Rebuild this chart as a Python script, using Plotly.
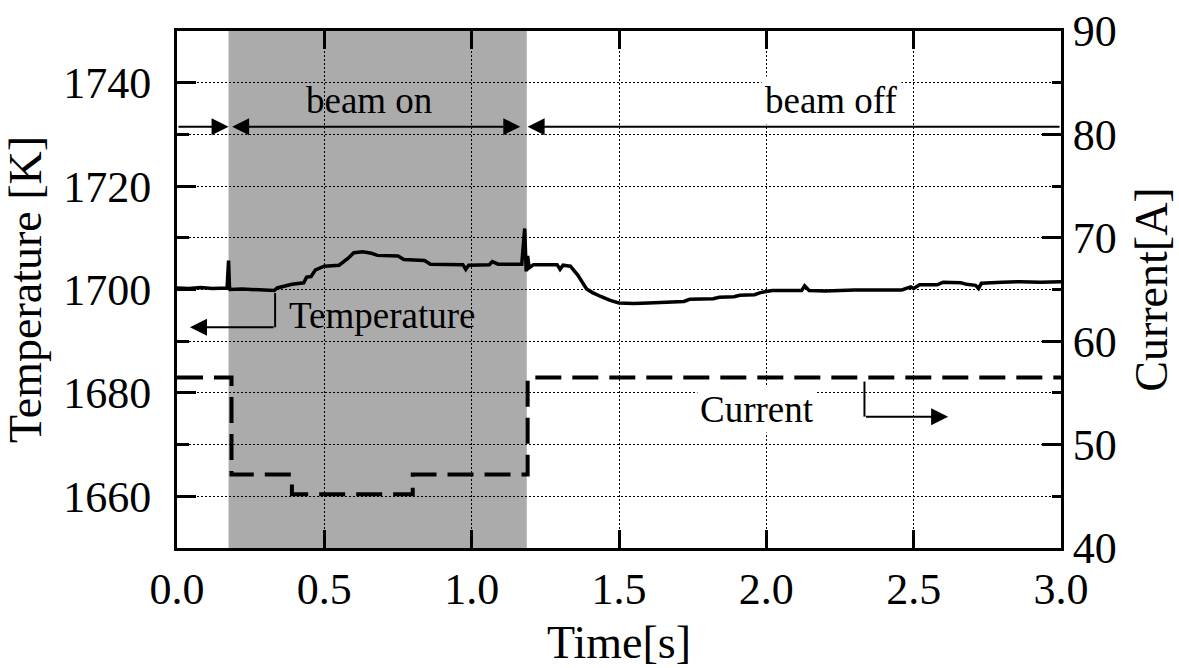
import plotly.graph_objects as go

# Surface temperature trace: time [s], temperature [K]
time_temp = [0.00, 0.04, 0.08, 0.12, 0.17, 0.175, 0.178, 0.18, 0.22, 0.27, 0.33, 0.34,
             0.39, 0.43, 0.44, 0.455, 0.47, 0.50, 0.55, 0.58, 0.60, 0.63, 0.66, 0.68,
             0.75, 0.77, 0.84, 0.86, 0.97, 0.98, 0.99, 1.06, 1.07, 1.09, 1.17, 1.18,
             1.185, 1.19, 1.195, 1.21, 1.29, 1.30, 1.31, 1.335, 1.36, 1.39, 1.41, 1.44,
             1.47, 1.50, 1.55, 1.60, 1.66, 1.72, 1.74, 1.82, 1.84, 1.89, 1.91, 1.96,
             1.98, 2.02, 2.12, 2.13, 2.145, 2.20, 2.30, 2.40, 2.46, 2.49, 2.50, 2.52,
             2.58, 2.60, 2.66, 2.68, 2.71, 2.72, 2.73, 2.80, 2.86, 2.93, 3.00]
temperature = [1700.3, 1700.2, 1700.4, 1700.2, 1700.3, 1705.6, 1700.6, 1700.0, 1700.1, 1699.9, 1699.8, 1700.3,
               1701.0, 1701.3, 1702.4, 1702.5, 1703.8, 1704.5, 1704.7, 1706.0, 1707.1, 1707.3, 1707.0, 1706.6,
               1706.5, 1705.8, 1705.6, 1704.9, 1704.8, 1703.9, 1704.7, 1704.8, 1705.4, 1704.9, 1704.9, 1711.8,
               1703.5, 1706.5, 1704.2, 1704.8, 1704.8, 1703.9, 1704.7, 1704.5, 1702.8, 1700.1, 1699.4, 1698.6,
               1697.9, 1697.4, 1697.3, 1697.4, 1697.6, 1697.7, 1698.1, 1698.2, 1698.5, 1698.6, 1698.9, 1699.0,
               1699.4, 1699.8, 1699.8, 1700.7, 1699.8, 1699.7, 1699.9, 1699.8, 1699.9, 1700.5, 1700.2, 1700.9,
               1700.9, 1701.4, 1701.3, 1701.0, 1700.8, 1700.2, 1701.2, 1701.4, 1701.5, 1701.4, 1701.5]

# Heater current steps: time [s], current [A]
time_current = [0.0, 0.185, 0.39, 0.80, 1.19, 3.0]
current = [56.5, 47.1, 45.2, 47.1, 56.5, 56.5]

# Beam irradiation window [s]
beam_on_start = 0.175
beam_on_end = 1.187

x_ticks = [0.0, 0.5, 1.0, 1.5, 2.0, 2.5, 3.0]

FONT = "Liberation Serif, Times New Roman, serif"
TICK_SIZE = 44
TITLE_SIZE = 46
NOTE_SIZE = 37
GRID_DASH = "2px,2px"

fig = go.Figure()

fig.add_trace(go.Scatter(
    x=time_temp, y=temperature, mode="lines",
    line=dict(color="black", width=3.5), yaxis="y", showlegend=False,
))
fig.add_trace(go.Scatter(
    x=time_current, y=current, mode="lines", line_shape="hv",
    line=dict(color="black", width=4, dash="26px,11px"), yaxis="y2", showlegend=False,
))

# Shaded beam-on band
fig.add_shape(type="rect", xref="x", yref="y domain", x0=beam_on_start, x1=beam_on_end,
              y0=0, y1=1, fillcolor="#ababab", line=dict(width=0), layer="below")

arrow_y = 1731.5
arrow_style = dict(showarrow=True, text="", arrowcolor="black", arrowwidth=2,
                   arrowhead=2, arrowsize=1.7, xref="x", yref="y", axref="x", ayref="y")
# beam on / beam off span arrows
fig.add_annotation(x=beam_on_start, y=arrow_y, ax=0.0, ay=arrow_y, **arrow_style)
fig.add_annotation(x=1.165, y=arrow_y, ax=0.182, ay=arrow_y, arrowside="end+start",
                   startarrowhead=2, startarrowsize=1.7, **arrow_style)
fig.add_annotation(x=1.19, y=arrow_y, ax=3.0, ay=arrow_y, **arrow_style)

fig.add_annotation(x=0.65, y=1736.6, text="beam on", showarrow=False,
                   font=dict(family=FONT, size=NOTE_SIZE, color="black"))
fig.add_annotation(x=2.22, y=1736.6, text="beam off", showarrow=False, bgcolor="white",
                   borderpad=3, font=dict(family=FONT, size=NOTE_SIZE, color="black"))

# Temperature label with L-shaped pointer to the left axis
fig.add_shape(type="line", xref="x", yref="y", x0=0.333, x1=0.333, y0=1699.3, y1=1692.7,
              line=dict(color="black", width=2))
fig.add_annotation(x=0.044, y=1692.7, ax=0.333, ay=1692.7, **arrow_style)
fig.add_annotation(x=0.695, y=1695.0, text="Temperature", showarrow=False,
                   font=dict(family=FONT, size=NOTE_SIZE, color="black"))

# Current label with L-shaped pointer to the right axis
fig.add_shape(type="line", xref="x", yref="y2", x0=2.333, x1=2.333, y0=56.1, y1=52.7,
              line=dict(color="black", width=2))
fig.add_annotation(x=2.617, y=52.7, ax=2.333, ay=52.7, showarrow=True, text="",
                   arrowcolor="black", arrowwidth=2, arrowhead=2, arrowsize=1.7,
                   xref="x", yref="y2", axref="x", ayref="y2")
fig.add_annotation(x=1.967, y=53.42, xref="x", yref="y2", text="Current", showarrow=False,
                   bgcolor="white", borderpad=2,
                   font=dict(family=FONT, size=NOTE_SIZE, color="black"))

fig.update_layout(
    width=1179, height=668,
    margin=dict(l=177, r=118, t=31, b=120, autoexpand=False),
    paper_bgcolor="white", plot_bgcolor="white",
    font=dict(family=FONT, color="black"),
    xaxis=dict(
        range=[0, 3], tickvals=x_ticks, tickformat=".1f", automargin=False,
        ticks="inside", ticklen=18, tickwidth=2.5, tickcolor="black",
        showline=True, linecolor="black", linewidth=3, mirror="ticks",
        showgrid=True, gridcolor="black", griddash=GRID_DASH, gridwidth=1.2,
        zeroline=False,
        tickfont=dict(family=FONT, size=TICK_SIZE, color="black"),
        title=dict(text="Time[s]", font=dict(family=FONT, size=TITLE_SIZE, color="black"), standoff=24),
    ),
    yaxis=dict(
        range=[1650, 1750], dtick=20, automargin=False,
        ticks="inside", ticklen=19, tickwidth=2.5, tickcolor="black",
        showline=True, linecolor="black", linewidth=3,
        showgrid=True, gridcolor="black", griddash=GRID_DASH, gridwidth=1.2,
        minor=dict(dtick=10, ticks="inside", ticklen=12, tickwidth=2.5, tickcolor="black",
                   showgrid=True, gridcolor="black", griddash=GRID_DASH, gridwidth=1.2),
        zeroline=False,
        tickfont=dict(family=FONT, size=TICK_SIZE, color="black"),
        ticklabelstandoff=14,
        title=dict(text="Temperature [K]", font=dict(family=FONT, size=TITLE_SIZE, color="black"), standoff=10),
    ),
    yaxis2=dict(
        range=[40, 90], dtick=10, overlaying="y", side="right", automargin=False,
        ticks="inside", ticklen=19, tickwidth=2.5, tickcolor="black",
        showline=True, linecolor="black", linewidth=3,
        showgrid=False, zeroline=False,
        minor=dict(dtick=5, ticks="inside", ticklen=9, tickwidth=2.5, tickcolor="black", showgrid=False),
        tickfont=dict(family=FONT, size=TICK_SIZE, color="black"),
        title=dict(text="Current[A]", font=dict(family=FONT, size=TITLE_SIZE, color="black"), standoff=20),
    ),
)

fig.write_html("out.html")
